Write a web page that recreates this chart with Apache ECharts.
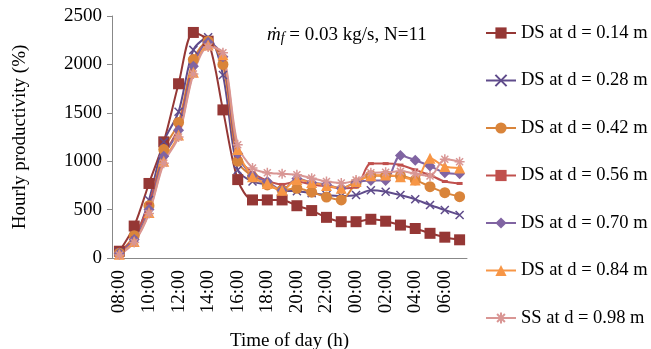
<!DOCTYPE html>
<html>
<head>
<meta charset="utf-8">
<script src="https://cdn.jsdelivr.net/npm/echarts@6/dist/echarts.min.js"></script>
<style>
  html, body { margin: 0; padding: 0; background: #fff; }
  #chart { width: 651px; height: 349px; }
</style>
</head>
<body>
<div id="chart"></div>
<script>
// hours of the day, 08:00 to 07:00
var hours = ['08:00', '09:00', '10:00', '11:00', '12:00', '13:00', '14:00', '15:00', '16:00', '17:00', '18:00', '19:00',
             '20:00', '21:00', '22:00', '23:00', '00:00', '01:00', '02:00', '03:00', '04:00', '05:00', '06:00', '07:00'];

// hourly productivity (%)
var ds14 = [70, 330, 770, 1200, 1800, 2330, 2240, 1530, 810, 600, 600, 600, 540, 490, 420, 375, 375, 400, 380, 340, 305, 255, 215, 188];
var ds28 = [60, 200, 600, 1200, 1510, 2150, 2280, 1890, 910, 790, 760, 700, 690, 670, 650, 640, 650, 700, 685, 650, 606, 547, 496, 445];
var ds42 = [50, 230, 540, 1120, 1400, 2050, 2240, 2000, 1000, 840, 755, 700, 720, 680, 630, 600, 770, 850, 847, 847, 806, 737, 675, 633];
var ds56 = [60, 210, 560, 1050, 1350, 2000, 2230, 2050, 1050, 880, 800, 760, 790, 760, 740, 720, 735, 975, 975, 960, 910, 857, 790, 770];
var ds70 = [50, 190, 500, 1050, 1320, 1980, 2230, 2080, 1080, 850, 790, 700, 820, 780, 760, 720, 780, 800, 800, 1060, 1010, 950, 880, 870];
var ds84 = [40, 170, 470, 1000, 1270, 1920, 2200, 2100, 1120, 840, 770, 700, 810, 780, 750, 720, 790, 850, 857, 840, 805, 1030, 945, 930];
var ss98 = [30, 160, 460, 980, 1250, 1900, 2180, 2120, 1170, 930, 880, 870, 860, 825, 790, 775, 805, 880, 885, 895, 870, 847, 1020, 995];

var names = ['DS at d = 0.14 m', 'DS at d = 0.28 m', 'DS at d = 0.42 m', 'DS at d = 0.56 m',
             'DS at d = 0.70 m', 'DS at d = 0.84 m', 'SS at d = 0.98 m'];

var font = 'Liberation Serif';
var crossPath = 'path://M0,0L10,10M10,0L0,10';
var starPath = 'path://M5,0L5,10M0,5L10,5M1.5,1.5L8.5,8.5M8.5,1.5L1.5,8.5';

function mkSeries(name, data, color, symbol, size, stroke) {
    return {
        name: name,
        type: 'line',
        data: data,
        smooth: 0.3,
        symbol: symbol,
        symbolSize: size,
        showAllSymbol: true,
        lineStyle: { color: color, width: 2 },
        itemStyle: stroke ? { color: 'none', borderColor: color, borderWidth: 1.5 }
                          : { color: color, borderColor: color, borderWidth: 0 },
        emphasis: { disabled: true }
    };
}

var myChart = echarts.init(document.getElementById('chart'));
var option = {
    animation: false,
    title: {
        text: '{m|ṁ}{f|f} = 0.03 kg/s, N=11',
        left: 262,
        top: 20,
        textStyle: {
            fontFamily: font, fontSize: 19, fontWeight: 'normal', color: '#000',
            rich: {
                m: { fontFamily: font, fontSize: 19, fontStyle: 'italic', color: '#000' },
                f: { fontFamily: font, fontSize: 14, fontStyle: 'italic', color: '#000', verticalAlign: 'bottom', padding: [6, 0, 0, 0] }
            }
        }
    },
    legend: {
        orient: 'vertical',
        left: 480,
        top: 18,
        itemWidth: 30,
        itemHeight: 14,
        itemGap: 27.5,
        textStyle: { fontFamily: font, fontSize: 18.5, lineHeight: 20, color: '#000' },
        data: names
    },
    grid: { left: 112, right: 184, top: 16, bottom: 91, outerBoundsMode: 'none' },
    xAxis: {
        type: 'category',
        data: hours,
        boundaryGap: true,
        name: 'Time of day (h)',
        nameLocation: 'middle',
        nameGap: 74,
        nameTextStyle: { fontFamily: font, fontSize: 19, color: '#000' },
        axisLine: { lineStyle: { color: '#888' } },
        axisTick: { interval: 0, length: 5, lineStyle: { color: '#888' } },
        axisLabel: { interval: 1, rotate: 90, margin: 12, fontFamily: font, fontSize: 19, color: '#000' },
        splitLine: { show: false }
    },
    yAxis: {
        type: 'value',
        min: 0,
        max: 2500,
        interval: 500,
        name: 'Hourly productivity (%)',
        nameLocation: 'middle',
        nameGap: 82,
        nameTextStyle: { fontFamily: font, fontSize: 19, color: '#000' },
        axisLine: { show: true, lineStyle: { color: '#888' } },
        axisTick: { show: true, length: 5, lineStyle: { color: '#888' } },
        axisLabel: {
            margin: 10, fontFamily: font, fontSize: 19, color: '#000',
            formatter: function (v) { return String(v); }
        },
        splitLine: { show: false }
    },
    series: [
        mkSeries(names[0], ds14, '#953735', 'rect', 11, false),
        mkSeries(names[1], ds28, '#5F4B8B', crossPath, 8, true),
        mkSeries(names[2], ds42, '#D9843A', 'circle', 11, false),
        mkSeries(names[3], ds56, '#C0504D', 'rect', [6, 3], false),
        mkSeries(names[4], ds70, '#8064A2', 'diamond', 11, false),
        mkSeries(names[5], ds84, '#F79646', 'triangle', 11, false),
        mkSeries(names[6], ss98, '#D99694', starPath, 10, true)
    ]
};
myChart.setOption(option);
</script>
</body>
</html>
